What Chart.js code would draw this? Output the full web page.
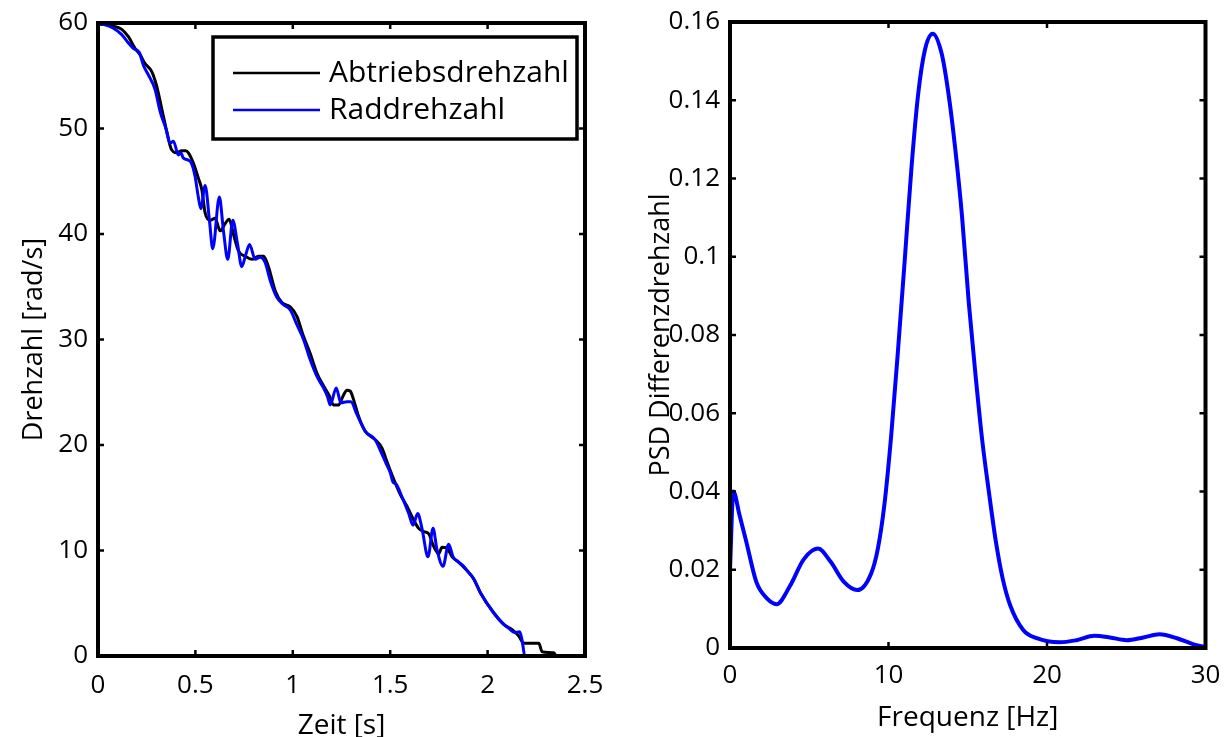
<!DOCTYPE html>
<html>
<head>
<meta charset="utf-8">
<script src="https://cdn.jsdelivr.net/npm/chart.js@4.4.0/dist/chart.umd.min.js"></script>
<style>
  html, body { margin: 0; padding: 0; background: #fff; }
  body { width: 1229px; height: 737px; position: relative; overflow: hidden; }
  .box { position: absolute; top: 0; height: 737px; }
  #leftBox { left: 0; width: 615px; }
  #rightBox { left: 615px; width: 614px; }
</style>
</head>
<body>
<div class="box" id="leftBox"><canvas id="left" width="615" height="737"></canvas></div>
<div class="box" id="rightBox"><canvas id="right" width="614" height="737"></canvas></div>
<script>
// ---------- data ----------
const seriesLabels = ['Abtriebsdrehzahl', 'Raddrehzahl'];

const timeAbtrieb = [0, 0.04, 0.079, 0.122, 0.156, 0.19, 0.216, 0.24, 0.276, 0.30, 0.327, 0.353, 0.375, 0.404, 0.43, 0.45, 0.464, 0.49, 0.515, 0.533, 0.55, 0.576, 0.601, 0.627, 0.653, 0.673, 0.695, 0.721, 0.755, 0.79, 0.824, 0.85, 0.875, 0.91, 0.944, 0.987, 1.021, 1.055, 1.089, 1.124, 1.158, 1.189, 1.209, 1.235, 1.257, 1.278, 1.295, 1.312, 1.338, 1.372, 1.423, 1.458, 1.48, 1.5, 1.526, 1.552, 1.586, 1.612, 1.646, 1.672, 1.697, 1.723, 1.749, 1.766, 1.792, 1.818, 1.851, 1.894, 1.929, 1.963, 2.031, 2.083, 2.126, 2.16, 2.186, 2.263, 2.28, 2.34, 2.35];
const speedAbtrieb = [59.9, 59.85, 59.7, 59.4, 58.7, 57.6, 57.0, 56.2, 55.4, 54.1, 51.9, 49.7, 48.1, 47.7, 47.9, 47.9, 47.7, 46.7, 45.3, 44.2, 42.0, 41.3, 41.5, 40.3, 41.0, 41.4, 40.0, 38.4, 37.9, 37.6, 37.9, 37.9, 36.9, 34.6, 33.5, 33.1, 32.2, 30.3, 28.7, 26.8, 25.6, 24.6, 23.8, 23.8, 24.6, 25.2, 25.1, 24.3, 22.7, 21.3, 20.5, 19.7, 18.6, 17.6, 16.4, 15.3, 14.2, 13.2, 12.1, 11.8, 11.6, 10.4, 9.7, 10.3, 10.2, 9.4, 8.9, 8.1, 7.3, 6.0, 4.1, 3.0, 2.5, 1.9, 1.2, 1.2, 0.4, 0.3, 0];

const timeRad = [0, 0.04, 0.079, 0.122, 0.156, 0.181, 0.212, 0.233, 0.258, 0.293, 0.319, 0.35, 0.37, 0.387, 0.413, 0.425, 0.438, 0.464, 0.48, 0.498, 0.515, 0.528, 0.55, 0.572, 0.589, 0.623, 0.644, 0.666, 0.692, 0.716, 0.738, 0.758, 0.778, 0.807, 0.832, 0.858, 0.884, 0.918, 0.952, 0.987, 1.021, 1.055, 1.089, 1.124, 1.158, 1.178, 1.192, 1.223, 1.247, 1.278, 1.298, 1.329, 1.372, 1.423, 1.449, 1.48, 1.5, 1.514, 1.53, 1.56, 1.595, 1.617, 1.641, 1.663, 1.694, 1.72, 1.74, 1.771, 1.8, 1.823, 1.851, 1.877, 1.903, 1.929, 1.963, 2.031, 2.083, 2.11, 2.14, 2.165, 2.177, 2.19, 2.2, 2.41];
const speedRad = [59.9, 59.8, 59.5, 58.9, 58.1, 57.6, 57.2, 56.0, 55.1, 53.7, 51.6, 49.9, 48.6, 48.8, 47.5, 47.7, 47.2, 47.0, 46.7, 45.5, 43.5, 42.4, 44.6, 41.3, 38.6, 43.5, 40.3, 37.6, 41.3, 39.1, 36.9, 38.0, 39.0, 37.6, 37.8, 37.3, 35.6, 34.0, 33.3, 32.8, 31.4, 30.0, 28.1, 26.5, 25.4, 24.6, 23.8, 25.4, 24.0, 24.1, 24.1, 22.9, 21.3, 20.5, 19.5, 18.2, 17.4, 16.5, 16.3, 15.1, 13.5, 12.4, 13.5, 12.1, 9.4, 12.1, 10.1, 8.5, 10.6, 9.4, 8.9, 8.5, 7.9, 7.3, 6.0, 4.1, 3.0, 2.6, 2.2, 2.3, 1.5, 0.1, 0.05, 0.05];

const freq = [0, 0.21, 0.6, 1.02, 1.66, 2.3, 2.94, 3.79, 4.64, 5.55, 6.34, 7.19, 8.04, 8.9, 9.32, 9.74, 10.17, 10.6, 11.02, 11.45, 11.87, 12.3, 12.79, 13.36, 13.79, 14.2, 14.64, 15.06, 15.49, 15.91, 16.34, 16.77, 17.19, 17.67, 18.5, 19.35, 20.8, 21.87, 23.0, 23.97, 25.03, 26.08, 27.1, 28.2, 29.2, 30];
const psd = [0.020, 0.040, 0.034, 0.0273, 0.0169, 0.0128, 0.0112, 0.0159, 0.0226, 0.0254, 0.0221, 0.0169, 0.0148, 0.019, 0.0252, 0.0366, 0.0543, 0.0761, 0.0989, 0.1228, 0.1415, 0.1529, 0.157, 0.1518, 0.1415, 0.128, 0.1103, 0.0885, 0.0698, 0.0532, 0.0397, 0.0273, 0.018, 0.011, 0.0046, 0.0025, 0.00145, 0.002, 0.0031, 0.0027, 0.002, 0.0027, 0.0035, 0.0025, 0.001, 0.0002];

const leftXTicks = [0, 0.5, 1, 1.5, 2, 2.5];
const leftYTicks = [0, 10, 20, 30, 40, 50, 60];
const rightXTicks = [0, 10, 20, 30];
const rightYTicks = [0, 0.02, 0.04, 0.06, 0.08, 0.1, 0.12, 0.14, 0.16];

// ---------- helpers ----------
const FONT = "'Open Sans', 'DejaVu Sans', sans-serif";
const zip = (xs, ys) => xs.map((x, i) => ({ x, y: ys[i] }));
const fixTicks = arr => scale => { scale.ticks = arr.map(v => ({ value: v })); };
const fmt = v => String(Number(v.toFixed(4)));
const fitX = h => s => { s.height = h; s.paddingLeft = 0; s.paddingRight = 0; };
const fitY = w => s => { s.width = w; s.paddingTop = 0; s.paddingBottom = 0; };

const framePlugin = {
  id: 'frame',
  afterDatasetsDraw(chart, args, opts) {
    const { ctx, chartArea: { left, right, top, bottom }, scales: { x, y } } = chart;
    const L = opts.tickLength;
    ctx.save();
    ctx.strokeStyle = '#000';
    ctx.lineWidth = opts.tickWidth;
    ctx.beginPath();
    x.ticks.forEach(t => {
      const px = x.getPixelForValue(t.value);
      ctx.moveTo(px, bottom); ctx.lineTo(px, bottom - L);
      ctx.moveTo(px, top); ctx.lineTo(px, top + L);
    });
    y.ticks.forEach(t => {
      const py = y.getPixelForValue(t.value);
      ctx.moveTo(left, py); ctx.lineTo(left + L, py);
      ctx.moveTo(right, py); ctx.lineTo(right - L, py);
    });
    ctx.stroke();
    ctx.lineWidth = opts.width;
    ctx.strokeRect(left, top, right - left, bottom - top);
    ctx.restore();
  }
};

const insideLegend = {
  id: 'insideLegend',
  afterDraw(chart, args, opts) {
    if (!opts.display) return;
    const { ctx, chartArea } = chart;
    const x1 = chartArea.right - opts.offsetRight, x0 = x1 - opts.width;
    const y0 = chartArea.top + opts.offsetTop, y1 = y0 + opts.height;
    ctx.save();
    ctx.fillStyle = '#fff';
    ctx.fillRect(x0, y0, x1 - x0, y1 - y0);
    ctx.strokeStyle = '#000';
    ctx.lineWidth = opts.borderWidth;
    ctx.strokeRect(x0, y0, x1 - x0, y1 - y0);
    ctx.font = opts.fontSize + 'px ' + FONT;
    ctx.textBaseline = 'middle';
    chart.data.datasets.forEach((ds, i) => {
      const yy = y0 + opts.firstRow + i * opts.rowGap;
      ctx.strokeStyle = ds.borderColor;
      ctx.lineWidth = 2.5;
      ctx.beginPath();
      ctx.moveTo(x0 + opts.lineStart, yy);
      ctx.lineTo(x0 + opts.lineEnd, yy);
      ctx.stroke();
      ctx.fillStyle = '#000';
      ctx.fillText(ds.label, x0 + opts.textStart, yy);
    });
    ctx.restore();
  }
};

Chart.defaults.font.family = FONT;
Chart.defaults.color = '#000';
Chart.defaults.animation = false;

// ---------- left chart ----------
new Chart(document.getElementById('left'), {
  type: 'line',
  data: {
    datasets: [
      { label: seriesLabels[0], data: zip(timeAbtrieb, speedAbtrieb), borderColor: '#000000', borderWidth: 3, pointRadius: 0, cubicInterpolationMode: 'monotone', order: 1 },
      { label: seriesLabels[1], data: zip(timeRad, speedRad), borderColor: '#0000ff', borderWidth: 3, pointRadius: 0, cubicInterpolationMode: 'monotone', order: 0 }
    ]
  },
  options: {
    responsive: false,
    animation: false,
    layout: { padding: { left: 0, top: 23, right: 30, bottom: 0 } },
    plugins: {
      legend: { display: false },
      tooltip: { enabled: false },
      frame: { width: 4, tickWidth: 2.5, tickLength: 6 },
      insideLegend: { display: true, offsetRight: 8, offsetTop: 14, width: 364, height: 102, borderWidth: 3.5,
        firstRow: 36, rowGap: 37, lineStart: 20, lineEnd: 107, textStart: 116, fontSize: 30 }
    },
    scales: {
      x: {
        type: 'linear', min: 0, max: 2.5,
        afterBuildTicks: fixTicks(leftXTicks),
        afterFit: fitX(81),
        grid: { display: false, drawTicks: false },
        border: { display: false },
        ticks: { font: { size: 26 }, padding: 14, maxRotation: 0, callback: v => fmt(v) },
        title: { display: true, text: 'Zeit [s]', font: { size: 28 }, padding: { top: 0, bottom: -6 } }
      },
      y: {
        type: 'linear', min: 0, max: 60,
        afterBuildTicks: fixTicks(leftYTicks),
        afterFit: fitY(98),
        grid: { display: false, drawTicks: false },
        border: { display: false },
        ticks: { font: { size: 26 }, padding: 10, callback: v => fmt(v) },
        title: { display: true, text: 'Drehzahl [rad/s]', font: { size: 27 }, padding: { top: 18, bottom: 0 } }
      }
    }
  },
  plugins: [framePlugin, insideLegend]
});

// ---------- right chart ----------
new Chart(document.getElementById('right'), {
  type: 'line',
  data: {
    datasets: [
      { label: 'PSD', data: zip(freq, psd), borderColor: '#0000ff', borderWidth: 4, pointRadius: 0, cubicInterpolationMode: 'monotone' }
    ]
  },
  options: {
    responsive: false,
    animation: false,
    layout: { padding: { left: 0, top: 22, right: 23.5, bottom: 0 } },
    plugins: {
      legend: { display: false },
      tooltip: { enabled: false },
      frame: { width: 4, tickWidth: 2.5, tickLength: 6 },
      insideLegend: { display: false }
    },
    scales: {
      x: {
        type: 'linear', min: 0, max: 30,
        afterBuildTicks: fixTicks(rightXTicks),
        afterFit: fitX(89),
        grid: { display: false, drawTicks: false },
        border: { display: false },
        ticks: { font: { size: 26 }, padding: 12, maxRotation: 0, callback: v => fmt(v) },
        title: { display: true, text: 'Frequenz [Hz]', font: { size: 28 }, padding: { top: 0, bottom: 2 } }
      },
      y: {
        type: 'linear', min: 0, max: 0.16,
        afterBuildTicks: fixTicks(rightYTicks),
        afterFit: fitY(115),
        grid: { display: false, drawTicks: false },
        border: { display: false },
        ticks: { font: { size: 26 }, padding: 10, callback: v => fmt(v) },
        title: { display: true, text: 'PSD Differenzdrehzahl', font: { size: 27 }, padding: { top: 30, bottom: 0 } }
      }
    }
  },
  plugins: [framePlugin, insideLegend]
});
</script>
</body>
</html>
